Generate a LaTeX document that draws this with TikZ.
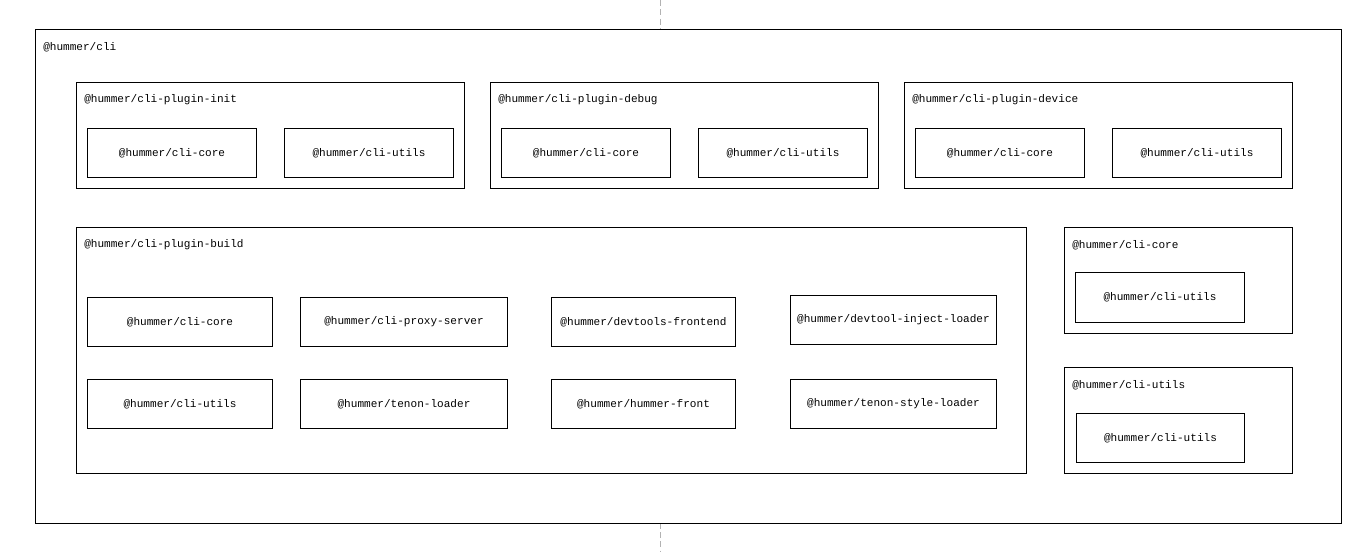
\documentclass[tikz,border=0pt]{standalone}
\usepackage{fontspec}
\setmonofont{Liberation Mono}
\usepackage{tikz}
\usetikzlibrary{positioning}

\tikzset{
	pkg/.style 2 args={draw, line width=0.75pt, anchor=north west, inner sep=0pt,
		minimum width=#1*0.75pt, minimum height=#2*0.75pt,
		font=\ttfamily\fontsize{8.3}{10}\selectfont},
	lbl/.style={anchor=west, inner sep=0pt, font=\ttfamily\fontsize{8.3}{10}\selectfont},
	guide/.style={draw=black!30, line width=0.75pt, dash pattern=on 4.5pt off 2.5pt}
}

\begin{document}
\begin{tikzpicture}[x=0.75pt,y=-0.75pt]
	\useasboundingbox (0,0) rectangle (1370,551);

	\coordinate (gtop) at (660,0);
	\coordinate (gbot) at (660,551);
	\draw[guide] (gtop) -- (gbot);

	% outer package
	\node[pkg={1306}{494}, fill=white] (cli) at (35,29) {};
	\node[lbl] (lcli) at ([shift={(8,18)}]cli.north west) {@hummer/cli};

	% plugins, first row
	\node[pkg={388}{106}] (init) at (76,82) {};
	\node[lbl] (linit) at ([shift={(8,18)}]init.north west) {@hummer/cli-plugin-init};
	\node[pkg={169}{49}] (initcore) at (87,128) {@hummer/cli-core};
	\node[pkg={169}{49}] (initutils) at (284,128) {@hummer/cli-utils};

	\node[pkg={388}{106}] (debug) at (490,82) {};
	\node[lbl] (ldebug) at ([shift={(8,18)}]debug.north west) {@hummer/cli-plugin-debug};
	\node[pkg={169}{49}] (debugcore) at (501,128) {@hummer/cli-core};
	\node[pkg={169}{49}] (debugutils) at (698,128) {@hummer/cli-utils};

	\node[pkg={388}{106}] (device) at (904,82) {};
	\node[lbl] (ldevice) at ([shift={(8,18)}]device.north west) {@hummer/cli-plugin-device};
	\node[pkg={169}{49}] (devicecore) at (915,128) {@hummer/cli-core};
	\node[pkg={169}{49}] (deviceutils) at (1112,128) {@hummer/cli-utils};

	% build plugin
	\node[pkg={950}{246}] (build) at (76,227) {};
	\node[lbl] (lbuild) at ([shift={(8,18)}]build.north west) {@hummer/cli-plugin-build};
	\node[pkg={185}{49}] (buildcore) at (87,297) {@hummer/cli-core};
	\node[pkg={207}{49}] (proxy) at (300,297) {@hummer/cli-proxy-server};
	\node[pkg={184}{49}] (frontend) at (551,297) {@hummer/devtools-frontend};
	\node[pkg={206}{49}] (inject) at (790,295) {@hummer/devtool-inject-loader};
	\node[pkg={185}{49}] (buildutils) at (87,379) {@hummer/cli-utils};
	\node[pkg={207}{49}] (tenon) at (300,379) {@hummer/tenon-loader};
	\node[pkg={184}{49}] (hfront) at (551,379) {@hummer/hummer-front};
	\node[pkg={206}{49}] (tenonstyle) at (790,379) {@hummer/tenon-style-loader};

	% core and utils
	\node[pkg={228}{106}] (core) at (1064,227) {};
	\node[lbl] (lcore) at ([shift={(8,18)}]core.north west) {@hummer/cli-core};
	\node[pkg={169}{50}] (coreutils) at (1075,272) {@hummer/cli-utils};

	\node[pkg={228}{106}] (utils) at (1064,367) {};
	\node[lbl] (lutils) at ([shift={(8,18)}]utils.north west) {@hummer/cli-utils};
	\node[pkg={168}{49}] (utilsutils) at (1076,413) {@hummer/cli-utils};
\end{tikzpicture}
\end{document}
